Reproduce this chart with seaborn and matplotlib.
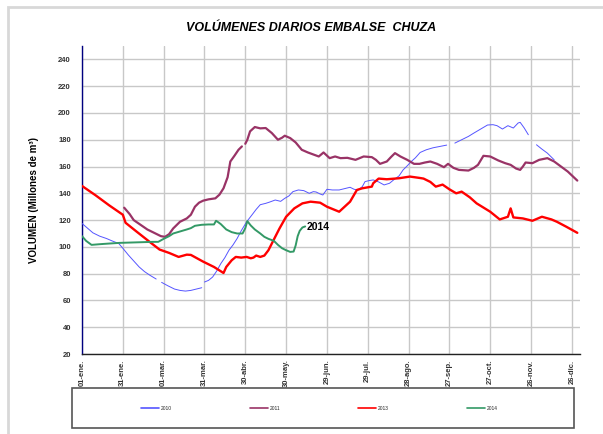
import numpy as np
import pandas as pd
import seaborn as sns
import matplotlib.pyplot as plt
from matplotlib.lines import Line2D
from matplotlib.patches import Rectangle

# dia del año (0 = 01-ene) y volumen en millones de m3; nan = tramo sin datos
dias_2010 = [0, 4, 8, 13, 18, 22, 27, 30, 34, 38, 42, 46, 50, 54.5, np.nan,
             58.5, 63, 68, 72, 76, 80, 84, 88, np.nan,
             90, 93, 96, 99, 102, 105, 108, 111, 114, 117, 121, 125, 128, 131, 135,
             138, 142, 146, 149, 152, 155, 159, 163, 167, 170, 172, 175, 177, 180,
             184, 189, 193, 197, 200, 203, 206, 208, 211, 214, 218, 222, 226, 229,
             233, 236, 239, 242, 245, 248.5, 253, 258, 263, 268, np.nan,
             274, 279, 284, 288, 293, 298, 302, 305, 309, 313, 317, 320.5, 322, 325,
             328, np.nan, 334, 338, 342, 347]
vol_2010 = [117.5, 114, 110.5, 108, 106.25, 104.5, 102.5, 99, 94, 89.5, 85, 81.5,
            78.75, 76, np.nan,
            73.5, 71, 68.5, 67.5, 67, 67.5, 68.5, 69.5, np.nan,
            73.75, 75, 77.5, 82, 87.5, 92, 97.5, 101.5, 106.25, 112, 118.75, 124,
            128, 131.5, 132.5, 133.5, 135, 134, 136.25, 138, 141.25, 142.5, 142, 140,
            141.25, 141, 139.5, 138.75, 143, 142.5, 142.5, 143.5, 144.5, 143, 142.5,
            145, 148.75, 149.5, 150, 148.5, 146.25, 147.5, 150, 153, 157.5, 160.5,
            163.75, 166.5, 170.5, 172.5, 174, 175, 176, np.nan,
            177.5, 180, 182.5, 185, 188, 191, 191.25, 190.5, 188, 190.5, 188.75,
            192.5, 193, 188.75, 183.75, np.nan, 176.25, 173, 170, 165]

dias_2011 = [31, 35, 38, 43, 48, 54, 58, 61, 64, 67, 72, 77, 80, 83, 86, 89, 93, 98,
             101, 104, 107, 109, 112, 115, 117.5, np.nan,
             120, 121.5, 123.5, 127, 131, 135, 139.5, 144, 147, 149, 153, 157, 161.5,
             166, 170, 174, 177.5, 182, 186, 190, 195, 201, 207, 213, 216, 219, 224,
             227, 230, 234, 239, 244, 248, 252, 256, 261, 266, 269, 273, 277, 284,
             288, 291, 295, 300, 306, 311, 315, 319, 322, 324, 326, 331, 336, 342,
             347, 352, 357, 364]
vol_2011 = [129.25, 124.5, 120, 116.5, 113, 110, 108, 107.5, 109.5, 113.75, 118.75,
            121.25, 124, 130, 133, 134.5, 135.5, 136.25, 139, 143.75, 152, 163.75,
            168, 172.5, 175, np.nan,
            177, 180, 186.25, 189.5, 188.5, 188.75, 185, 180, 181.5, 183, 181.25,
            178, 172.5, 170.5, 169, 167.5, 170.5, 166.25, 167.5, 166.25, 166.5, 165,
            167.5, 167, 165, 162, 163.75, 167, 170, 167.5, 165, 162, 162, 163,
            163.75, 162, 159.5, 162, 159, 157.5, 157, 159, 161.25, 168, 167.5, 164.5,
            162.5, 161.25, 158.5, 157.5, 160, 163, 162.5, 165, 166.25, 163.75, 160,
            156.25, 149.5]

dias_2013 = [0, 10, 20, 30, 31, 32, 40, 50, 57, 64, 71, 77, 80, 89, 97, 104, 106,
             110, 113, 117, 121, 124, 126, 128, 131, 134, 137, 140, 145, 150, 156,
             162, 168, 175, 180, 189, 193, 197, 202, 206, 213, 214, 218, 224, 233,
             241, 248, 251, 256, 260, 265, 270, 275, 279, 285, 290, 300, 307, 313,
             315, 317, 324, 331, 338, 345, 349, 356, 364]
vol_2013 = [145.5, 138.5, 131, 124, 121, 118, 111.5, 103.5, 98, 95.5, 92.5, 94.2, 94,
            89, 85, 80.5, 85, 90, 92.5, 92, 92.5, 91.5, 92, 93.5, 92.5, 93.5, 97.5,
            103.5, 113.5, 122.5, 128.75, 132.5, 133.75, 133, 130, 126.25, 130,
            133.75, 142.5, 143.75, 145, 147.5, 151, 150.5, 151.25, 152.5, 151.5, 151,
            148.5, 145, 146.5, 143, 140, 141.25, 137, 132.5, 126.25, 120.5, 122.5,
            128.75, 122, 121.25, 119.5, 122.5, 120.5, 118.75, 115, 110.5]

dias_2014 = [0, 3, 7, 13, 20, 28, 36, 44, 52, 56, 60, 64, 67, 72, 77, 80, 83, 88, 93,
             97, 98.5, 100, 102, 106, 110, 114, 118, 120, 121.5, 124, 127, 131, 134,
             137, 141, 144, 147, 150, 153, 155.5, 157, 158.5, 160, 162, 164]
vol_2014 = [108, 104.5, 101.5, 102, 102.5, 103, 103.25, 103.5, 103.75, 103.75, 106,
            108, 110, 111.5, 113, 114, 115.75, 116.5, 116.75, 116.75, 119.5, 118.5,
            117, 113, 111, 110, 110, 114, 119.25, 116, 113, 110, 107.5, 106, 104.5,
            101.5, 99, 97.5, 96.25, 96.5, 101, 108, 112, 114.5, 115.25]

tick_dias = [0, 30, 60, 90, 120, 150, 180, 210, 240, 270, 300, 330, 360]
tick_labels = ['01-ene.', '31-ene.', '01-mar.', '31-mar.', '30-abr.', '30-may.',
               '29-jun.', '29-jul.', '28-ago.', '27-sep.', '27-oct.', '26-nov.',
               '26-dic.']

series = [
    ('2010', dias_2010, vol_2010, '#5555ff', 0.7),
    ('2011', dias_2011, vol_2011, '#993366', 1.6),
    ('2013', dias_2013, vol_2013, '#ff0000', 1.7),
    ('2014', dias_2014, vol_2014, '#339966', 1.4),
]

sns.set_style('white')
plt.rcParams['font.family'] = ['Liberation Sans', 'DejaVu Sans']

fig = plt.figure(figsize=(6.03, 4.34), dpi=100)
ax = fig.add_axes([0.136, 0.1843, 0.8259, 0.7097])

handles = []
for nombre, dias, vols, color, lw in series:
    df = pd.DataFrame({'dia': dias, 'volumen': vols})
    df['tramo'] = df['dia'].isna().cumsum()
    df = df.dropna()
    sns.lineplot(data=df, x='dia', y='volumen', units='tramo', estimator=None,
                 color=color, lw=lw, ax=ax, zorder=3)
    handles.append(Line2D([], [], color=color, lw=1.2, label=nombre))

ax.text(165, 115, '2014', fontsize=7.5, fontweight='bold', va='center', ha='left',
        color='black', zorder=4)

ax.set_xlim(0, 366)
ax.set_ylim(20, 250)
ax.set_xticks(tick_dias)
ax.set_xticklabels(tick_labels, rotation=90, fontsize=5.5, fontweight='bold',
                   color='#333333')
ax.set_yticks(range(20, 241, 20))
ax.set_yticklabels([str(v) for v in range(20, 241, 20)], fontsize=5.5,
                   fontweight='bold', color='#333333')
ax.grid(True, color='#c8c8c8', lw=1)
ax.set_axisbelow(True)
ax.set_xlabel('')
ax.set_ylabel('VOLUMEN (Millones de m³)', fontsize=7, fontweight='bold',
              labelpad=14, color='black')

for s in ['top', 'right']:
    ax.spines[s].set_visible(False)
ax.spines['left'].set_color('#000080')
ax.spines['left'].set_linewidth(1)
ax.spines['bottom'].set_color('#222222')
ax.spines['bottom'].set_linewidth(1)
ax.tick_params(axis='y', direction='inout', length=4, color='#000080', pad=6)
ax.tick_params(axis='x', direction='inout', length=4, color='#222222', pad=2)

fig.text(0.516, 0.935, 'VOLÚMENES DIARIOS EMBALSE  CHUZA', ha='center', va='center',
         fontsize=9, fontweight='bold', fontstyle='italic', color='black')

# marco exterior y caja de la leyenda
fig.patches.append(Rectangle((8 / 603, -0.05), 1.1, 1 - 7 / 434 + 0.05,
                             transform=fig.transFigure, fill=False,
                             edgecolor='#d8d8d8', lw=2))
fig.patches.append(Rectangle((72 / 603, 1 - 428 / 434), 502 / 603, 40 / 434,
                             transform=fig.transFigure, fill=False,
                             edgecolor='#555555', lw=1.2))
fig.legend(handles=handles, loc='center', bbox_to_anchor=(0.53, 1 - 408 / 434),
           ncol=4, frameon=False, fontsize=3.5, handlelength=3.7,
           columnspacing=16, handletextpad=0.4)

fig.savefig('out.png', dpi=100)
